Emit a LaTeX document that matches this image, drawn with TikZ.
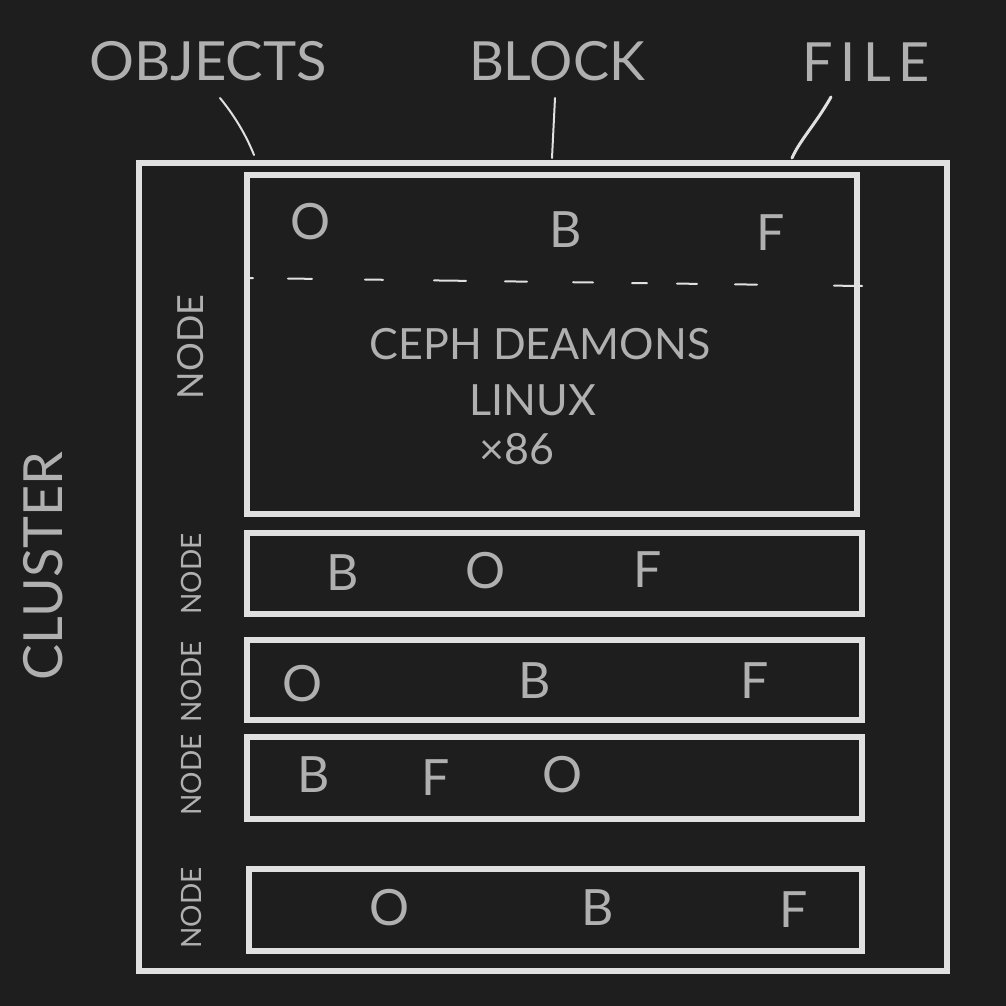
\documentclass[tikz,border=0pt]{standalone}
\usepackage{fontspec}
\setmainfont{Lato}
\definecolor{bg}{HTML}{1E1E1E}
\definecolor{linec}{HTML}{E0E0E0}
\definecolor{txtc}{HTML}{B0B0B0}
\tikzset{
  box/.style={draw=linec, line width=6pt, inner sep=0pt, outer sep=0pt, anchor=north west},
  big/.style={text=txtc, inner sep=0pt, font=\fontsize{54}{60}\selectfont},
  letter/.style={text=txtc, inner sep=0pt, font=\fontsize{50}{56}\selectfont},
  mid/.style={text=txtc, inner sep=0pt, font=\fontsize{43}{50}\selectfont},
  nodelbl/.style={text=txtc, inner sep=0pt, rotate=90, font=\fontsize{36}{40}\selectfont},
  nodelblsmall/.style={text=txtc, inner sep=0pt, rotate=90, font=\fontsize{28}{32}\selectfont},
  leader/.style={draw=linec, line width=2pt, line cap=round},
  dashseg/.style={draw=linec, line width=2pt, line cap=round}
}
\begin{document}
\begin{tikzpicture}[x=1pt,y=-1pt]
\fill[bg] (0,0) rectangle (1006,1006);
\useasboundingbox (0,0) rectangle (1006,1006);

% cluster and nodes
\node[box, minimum width=808pt, minimum height=808pt] (cluster) at (139,163) {};
\node[box, minimum width=610pt, minimum height=339pt] (n1) at (247,175) {};
\node[box, minimum width=615pt, minimum height=81pt] (n2) at (247,533) {};
\node[box, minimum width=615pt, minimum height=80pt] (n3) at (247,640) {};
\node[box, minimum width=615pt, minimum height=82pt] (n4) at (247,737) {};
\node[box, minimum width=613pt, minimum height=82pt] (n5) at (249,869) {};

% top labels
\node[big, xscale=1.04] (objects) at (208,61) {OBJECTS};
\node[big] (block) at (557,61) {BLOCK};
\node[big] (file) at (866,62) {\addfontfeature{LetterSpace=14}FILE};

\coordinate (oa) at (220,98);
\coordinate (ob) at (254,155);
\coordinate (ba) at (555,98);
\coordinate (bb) at (552,158);
\coordinate (fa) at (831,97);
\coordinate (fb) at (792,158);
\draw[leader] (oa) .. controls (238,120) and (248,140) .. (ob);
\draw[leader] (ba) -- (bb);
\draw[leader, line width=3pt] (fa) .. controls (815,125) and (800,140) .. (fb);

% cluster label
\node[big, rotate=90] (clusterlbl) at (43,566) {CLUSTER};

% node labels
\node[nodelbl] (l1) at (191,347) {NODE};
\node[nodelblsmall] (l2) at (191,574) {NODE};
\node[nodelblsmall] (l3) at (191,682) {NODE};
\node[nodelblsmall] (l4) at (191,775) {NODE};
\node[nodelblsmall] (l5) at (191,908) {NODE};

% top node content
\node[letter] (o1) at (311,222) {O};
\node[letter] (b1) at (566,230) {B};
\node[letter] (f1) at (771,233) {F};

\foreach \a/\b in {247/253, 288/312, 365/383, 434/466, 505/527, 573/593, 632/647, 677/697, 735/757, 834/862}{
  \draw[dashseg] (\a, {278+8*(\a-247)/615}) -- (\b, {278+8*(\b-247)/615});
}

\node[mid] (ceph) at (540,344) {CEPH DEAMONS};
\node[mid] (linux) at (533,400) {LINUX};
\node[mid] (x86) at (517,449) {×86};

% row 2
\node[letter] (b2) at (343,573) {B};
\node[letter] (o2) at (486,571) {O};
\node[letter] (f2) at (648,570) {F};
% row 3
\node[letter] (o3) at (303,684) {O};
\node[letter] (b3) at (535,681) {B};
\node[letter] (f3) at (755,681) {F};
% row 4
\node[letter] (b4) at (314,775) {B};
\node[letter] (f4) at (436,778) {F};
\node[letter] (o4) at (563,775) {O};
% row 5
\node[letter] (o5) at (390,908) {O};
\node[letter] (b5) at (598,908) {B};
\node[letter] (f5) at (794,910) {F};
\end{tikzpicture}
\end{document}
